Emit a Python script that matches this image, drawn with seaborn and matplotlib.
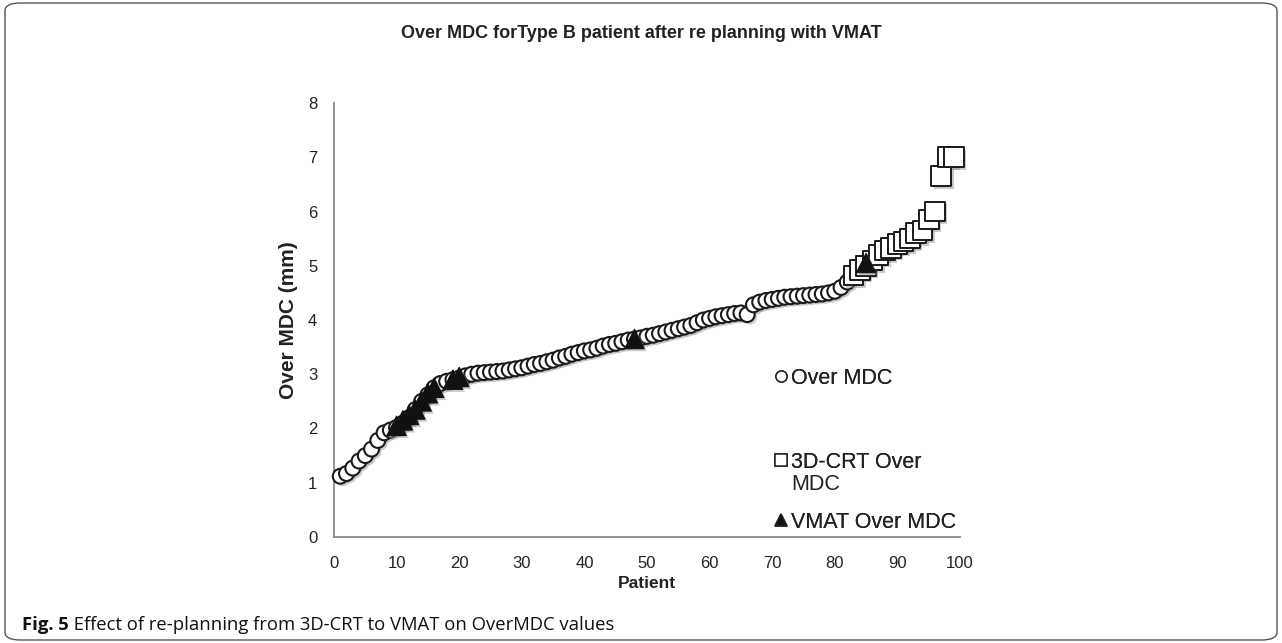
import matplotlib
matplotlib.use("Agg")
import numpy as np
import pandas as pd
import matplotlib.pyplot as plt
import seaborn as sns
from matplotlib.patches import FancyBboxPatch
from matplotlib.lines import Line2D
import matplotlib.patheffects as pe
from matplotlib import font_manager

# ---------------- data ----------------
over_x = list(range(1, 83))
over_y = [1.12, 1.17, 1.27, 1.40, 1.50, 1.62, 1.78, 1.92, 1.97, 2.02,
          2.10, 2.20, 2.35, 2.50, 2.62, 2.75, 2.83, 2.87, 2.90, 2.93,
          2.97, 3.00, 3.02, 3.03, 3.04, 3.05, 3.06, 3.08, 3.10, 3.12,
          3.15, 3.18, 3.20, 3.23, 3.26, 3.30, 3.33, 3.37, 3.40, 3.43,
          3.45, 3.48, 3.52, 3.55, 3.57, 3.60, 3.63, 3.65, 3.67, 3.70,
          3.72, 3.75, 3.78, 3.81, 3.84, 3.87, 3.90, 3.95, 4.00, 4.03,
          4.06, 4.08, 4.10, 4.12, 4.13, 4.10, 4.28, 4.33, 4.36, 4.38,
          4.40, 4.42, 4.43, 4.44, 4.45, 4.46, 4.47, 4.48, 4.50, 4.53,
          4.60, 4.70]
crt_x = list(range(83, 100))
crt_y = [4.82, 4.92, 5.00, 5.10, 5.20, 5.28, 5.33, 5.40, 5.45, 5.50,
         5.60, 5.65, 5.85, 6.00, 6.65, 7.00, 7.00]
vmat_x = [10, 11, 12, 13, 14, 15, 16, 19, 20, 48, 85]
vmat_y = [2.05, 2.15, 2.25, 2.35, 2.50, 2.65, 2.75, 2.90, 2.95, 3.65, 5.05]

title = "Over MDC forType B patient after re planning with VMAT"
xlabel = "Patient"
ylabel = "Over MDC (mm)"
series_labels = ["Over MDC", "3D-CRT Over", "VMAT Over MDC"]
label_wrap = "MDC"
x_ticks = list(range(0, 101, 10))
y_ticks = list(range(0, 9))
caption_bold = "Fig. 5"
caption_rest = " Effect of re-planning from 3D-CRT to VMAT on OverMDC values"

# ---------------- style ----------------
sns.set_theme(style="white")
plt.rcParams['font.family'] = ['Liberation Sans', 'DejaVu Sans']

W, H = 1282, 643
fig = plt.figure(figsize=(W / 100, H / 100), dpi=100)
fig.patch.set_facecolor("white")

def fx(px):
    return px / W

def fy(py):
    return 1 - py / H

ax = fig.add_axes([fx(334), fy(537), fx(960) - fx(334), fy(103) - fy(537)])

shadow = [pe.SimplePatchShadow(offset=(1.8, -1.8), shadow_rgbFace="0.55", alpha=0.45), pe.Normal()]

df_over = pd.DataFrame({"x": over_x, "y": over_y})
df_crt = pd.DataFrame({"x": crt_x, "y": crt_y})
df_vmat = pd.DataFrame({"x": vmat_x, "y": vmat_y})

sns.scatterplot(data=df_over, x="x", y="y", ax=ax, marker="o", s=115,
                color="white", edgecolor="#1a1a1a", linewidth=1.5, legend=False,
                zorder=3, clip_on=False)
ax.collections[-1].set_path_effects(shadow)
sns.scatterplot(data=df_crt, x="x", y="y", ax=ax, marker="s", s=200,
                color="white", edgecolor="#1a1a1a", linewidth=1.4, legend=False,
                zorder=4, clip_on=False)
ax.collections[-1].set_path_effects(shadow)
sns.scatterplot(data=df_vmat, x="x", y="y", ax=ax, marker="^", s=195,
                color="#111111", edgecolor="#111111", linewidth=0.8, legend=False,
                zorder=5, clip_on=False)
ax.collections[-1].set_path_effects(shadow)

ax.set_xlim(0, 100)
ax.set_ylim(0, 8)
ax.set_xticks(x_ticks)
ax.set_yticks(y_ticks)
ax.tick_params(axis="both", which="major", labelsize=12, colors="#222222",
               length=5, width=1, direction="out")
ax.tick_params(axis="x", pad=9)
ax.tick_params(axis="y", pad=7)
ax.tick_params(axis="both", color="#8a8a8a")
for side in ["top", "right"]:
    ax.spines[side].set_visible(False)
for side in ["left", "bottom"]:
    ax.spines[side].set_color("#8a8a8a")
    ax.spines[side].set_linewidth(1.3)
ax.set_xlabel(xlabel, fontsize=12.5, fontweight="bold", color="#222222", labelpad=3)
ax.set_ylabel(ylabel, fontsize=15, fontweight="bold", color="#222222", labelpad=7)
ax.set_facecolor("white")

fig.text(0.5, fy(33), title, ha="center", va="center", fontsize=13,
         fontweight="bold", color="#222222")

# ---------------- legends ----------------
def handle(marker, fc, ms):
    return Line2D([], [], linestyle="none", marker=marker, markersize=ms,
                  markerfacecolor=fc, markeredgecolor="#222222", markeredgewidth=1.1)

h_over = handle("o", "white", 8)
h_crt = handle("s", "white", 8)
h_vmat = handle("^", "#111111", 8.5)

legs = []
for h, lab, ypx in [(h_over, series_labels[0], 378),
                    (h_crt, series_labels[1], 462),
                    (h_vmat, series_labels[2], 522)]:
    lg = fig.legend([h], [lab], loc="center left",
                    bbox_to_anchor=(fx(773), fy(ypx)), frameon=False, fontsize=15.5,
                    handlelength=0.7, handletextpad=0.15, borderpad=0, borderaxespad=0)
    for t in lg.get_texts():
        t.set_color("#222222")
    fig.add_artist(lg)
    legs.append(lg)

# second line of the wrapped legend label
fig.canvas.draw()
r = fig.canvas.get_renderer()
tb = legs[1].get_texts()[0].get_window_extent(r)
fig.text(tb.x0 / W, fy(485), label_wrap, ha="left", va="center",
         fontsize=15.5, color="#222222")

# ---------------- outer frame & caption ----------------
frame = FancyBboxPatch((fx(5), fy(640)), fx(1277) - fx(5), fy(3) - fy(640),
                       boxstyle="round,pad=0,rounding_size=0.012",
                       transform=fig.transFigure, fill=False,
                       edgecolor="#555555", linewidth=1.0)
fig.add_artist(frame)

def pick_font(cands):
    for c in cands:
        try:
            font_manager.findfont(c, fallback_to_default=False)
            return c
        except Exception:
            continue
    return "DejaVu Sans"

cap_font = pick_font(["Liberation Sans Narrow", "DejaVu Sans Condensed", "Open Sans", "Liberation Sans"])

t1 = fig.text(fx(22), fy(625), caption_bold, ha="left", va="center", fontsize=13.3,
              fontweight="bold", family=[cap_font, "DejaVu Sans"], color="#111111")
fig.canvas.draw()
bb = t1.get_window_extent(r)
t2 = fig.text(bb.x1 / W, fy(625), caption_rest, ha="left", va="center", fontsize=13.3,
              family=[cap_font, "DejaVu Sans"], color="#111111")

fig.savefig("out.png", dpi=100, facecolor="white")
